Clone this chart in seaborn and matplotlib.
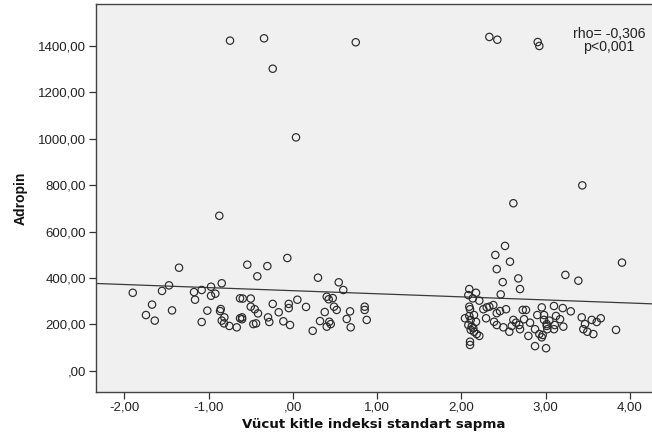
import numpy as np
import pandas as pd
import matplotlib
matplotlib.use("Agg")
import matplotlib.pyplot as plt
import seaborn as sns

# Body-mass-index standard deviation score vs. adropin level
bmi_sds = [
    # upper outliers
    -0.746, -0.342, -0.239, 0.746, 0.037, -0.873,
    2.331, 2.426, 2.905, 2.924, 2.616, 3.434,
    # group 1 (normal weight)
    -1.351, -1.900, -1.553, -1.470, -1.671, -1.743, -1.639, -1.434,
    -1.173, -1.082, -1.161, -0.971, -0.971, -0.920, -0.844, -1.015,
    -1.082, -0.864, -0.856, -0.844, -0.813, -0.817, -0.754, -0.666,
    -0.627, -0.627,
    -0.541, -0.303, -0.066, -0.422, 0.298, 0.544, 0.598, -0.595,
    -0.500, -0.500, -0.453, -0.414, -0.603, -0.603, -0.469, -0.437,
    -0.295, -0.280, -0.239, -0.168, -0.113, -0.034, -0.049, -0.049,
    0.053, 0.156, 0.235, 0.322, 0.378, 0.402, 0.425, 0.473,
    0.488, 0.520, 0.432, 0.449, 0.402, 0.639, 0.686, 0.678,
    0.852, 0.852, 0.876,
    # group 2 (obese)
    2.517, 2.402, 2.576, 2.419, 2.490, 2.675, 2.695, 2.466,
    2.093, 2.173, 2.082, 2.134, 2.212, 2.093, 2.102, 2.042,
    2.093, 2.149, 2.110, 2.173, 2.082, 2.122, 2.141, 2.110,
    2.149, 2.181, 2.212, 2.102, 2.102,
    2.260, 2.300, 2.331, 2.378, 2.292, 2.419, 2.458, 2.529,
    2.387, 2.419, 2.497, 2.568, 2.616, 2.648, 2.597, 2.687,
    2.695, 2.727, 2.766, 2.743, 2.814, 2.794, 2.873, 2.900,
    2.953, 2.924, 2.873, 3.004, 2.980, 3.012,
    3.905, 3.233, 3.387, 3.098, 3.202, 3.297, 2.980, 3.122,
    3.170, 3.043, 3.012, 3.107, 3.209, 3.019, 3.098, 2.964,
    2.953, 3.427, 3.466, 3.446, 3.494, 3.565, 3.546, 3.605,
    3.653, 3.834,
]

adropin = [
    # upper outliers
    1423, 1433, 1302, 1416, 1006, 668,
    1439, 1427, 1417, 1400, 722, 799,
    # group 1
    444, 336, 344, 368, 285, 240, 216, 260,
    339, 348, 306, 362, 323, 332, 377, 259,
    210, 257, 266, 216, 230, 204, 193, 187,
    312, 226,
    457, 451, 486, 407, 401, 381, 348, 311,
    311, 276, 265, 247, 230, 222, 201, 204,
    230, 210, 288, 252, 213, 197, 288, 270,
    306, 275, 172, 214, 253, 319, 308, 313,
    276, 262, 211, 201, 190, 223, 187, 256,
    276, 262, 219,
    # group 2
    538, 499, 470, 438, 382, 398, 352, 329,
    352, 336, 326, 312, 302, 276, 265, 226,
    236, 240, 219, 211, 197, 190, 183, 176,
    168, 158, 150, 125, 111,
    265, 273, 276, 283, 226, 248, 257, 265,
    211, 197, 187, 168, 219, 207, 193, 197,
    179, 262, 262, 222, 207, 150, 179, 240,
    273, 158, 106, 97, 219, 193,
    466, 413, 388, 279, 270, 256, 240, 236,
    222, 216, 201, 197, 190, 179, 179, 154,
    144, 230, 201, 179, 168, 158, 219, 210,
    226, 176,
]

x_ticks = [-2, -1, 0, 1, 2, 3, 4]
x_tick_labels = ["-2,00", "-1,00", ",00", "1,00", "2,00", "3,00", "4,00"]
y_ticks = [0, 200, 400, 600, 800, 1000, 1200, 1400]
y_tick_labels = [",00", "200,00", "400,00", "600,00", "800,00",
                 "1000,00", "1200,00", "1400,00"]

stats_text = "rho= -0,306\np<0,001"

df = pd.DataFrame({"bmi_sds": bmi_sds, "adropin": adropin})

sns.set_style("white")
plt.rcParams["font.family"] = ["Liberation Sans", "DejaVu Sans"]

W, H, DPI = 652, 441, 100
fig = plt.figure(figsize=(W / DPI, H / DPI), dpi=DPI)
fig.patch.set_facecolor("white")
ax = fig.add_axes([96 / W, (H - 392) / H, (W - 96) / W, (392 - 4) / H])
ax.set_facecolor("#F0F0F0")

ax.set_xlim(-2.336, 4.261)
ax.set_ylim(-91.8, 1581)

sns.scatterplot(data=df, x="bmi_sds", y="adropin", ax=ax,
                marker="o", s=28, facecolor="none", edgecolor="#2a2a2a",
                linewidth=0.85, zorder=3)

# total linear fit across the full axis range
sns.regplot(data=df, x="bmi_sds", y="adropin", ax=ax, scatter=False,
            ci=None, truncate=False,
            line_kws={"color": "#3a3a3a", "linewidth": 0.9, "zorder": 2})
ax.set_xlim(-2.336, 4.261)
ax.set_ylim(-91.8, 1581)

ax.text(0.923, 0.942, stats_text, transform=ax.transAxes, ha="center",
        va="top", fontsize=10.2, color="#222222", linespacing=0.95)

ax.set_xticks(x_ticks)
ax.set_xticklabels(x_tick_labels)
ax.set_yticks(y_ticks)
ax.set_yticklabels(y_tick_labels)
ax.tick_params(axis="both", direction="out", length=5, width=0.9,
               color="#333333", labelsize=9.5, labelcolor="#222222", pad=2)
ax.tick_params(axis="x", bottom=True)
ax.tick_params(axis="y", left=True)

ax.set_xlabel("Vücut kitle indeksi standart sapma", fontsize=9.6,
              fontweight="bold", family="DejaVu Sans", color="#111111",
              labelpad=3)
ax.set_ylabel("Adropin", fontsize=10, fontweight="bold", color="#111111",
              labelpad=8)

for side in ["left", "bottom", "top"]:
    ax.spines[side].set_color("#444444")
    ax.spines[side].set_linewidth(1.0)
ax.spines["right"].set_visible(False)

fig.savefig("out.png", dpi=DPI, facecolor="white")
